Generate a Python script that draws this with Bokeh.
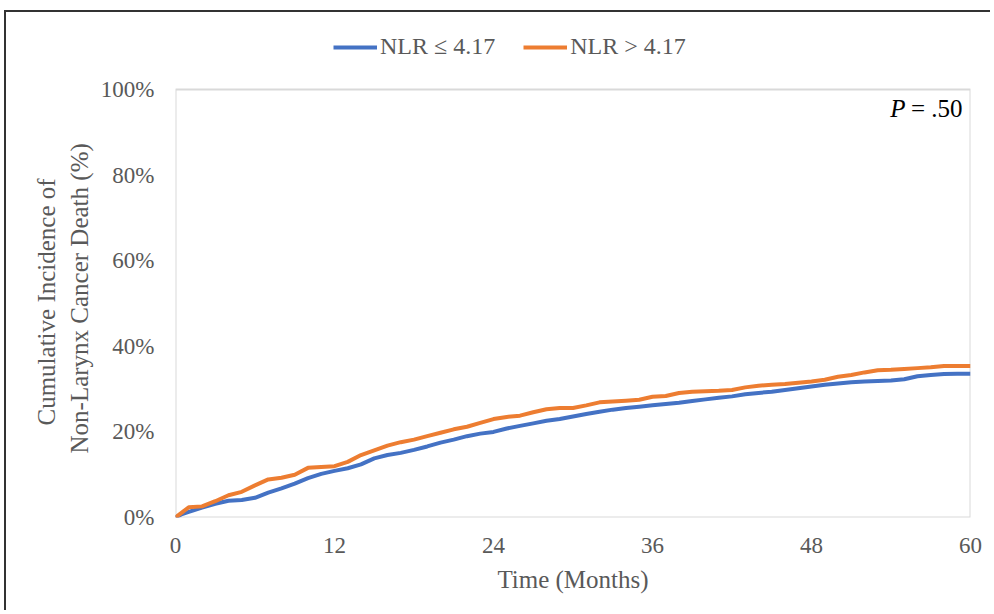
from bokeh.plotting import figure
from bokeh.models import Legend, LegendItem, Label, NumeralTickFormatter, FixedTicker, Range1d, Title
from bokeh.embed import file_html
from bokeh.resources import INLINE

months_low = [0, 0.5, 1, 2, 3, 4, 5, 6, 7, 8, 9, 10, 11, 12, 13, 14, 15, 16, 17, 18, 19, 20,
              21, 22, 23, 24, 25, 26, 27, 28, 29, 30, 31, 32, 33, 34, 35, 36, 37, 38, 39, 40,
              41, 42, 43, 44, 45, 46, 47, 48, 49, 50, 51, 52, 53, 54, 55, 56, 57, 58, 59, 60]
inc_low = [0, 0.8, 1.3, 2.3, 3.2, 3.9, 4.1, 4.6, 5.8, 6.8, 7.9, 9.2, 10.2, 10.9, 11.5, 12.4,
           13.8, 14.6, 15.1, 15.8, 16.6, 17.5, 18.2, 19.0, 19.6, 20.0, 20.8, 21.4, 22.0, 22.6,
           23.0, 23.6, 24.2, 24.7, 25.2, 25.6, 25.9, 26.2, 26.5, 26.8, 27.2, 27.6, 28.0, 28.3,
           28.8, 29.1, 29.4, 29.8, 30.2, 30.6, 31.0, 31.3, 31.6, 31.8, 31.9, 32.0, 32.3, 33.0,
           33.3, 33.5, 33.6, 33.6]

months_high = months_low
inc_high = [0, 1.2, 2.4, 2.6, 3.8, 5.2, 6.0, 7.5, 8.9, 9.3, 10.0, 11.6, 11.8, 12.0, 13.0, 14.6,
            15.7, 16.8, 17.6, 18.2, 19.0, 19.8, 20.6, 21.2, 22.1, 23.0, 23.5, 23.8, 24.6, 25.3,
            25.6, 25.6, 26.2, 26.9, 27.1, 27.3, 27.5, 28.2, 28.4, 29.1, 29.4, 29.5, 29.6, 29.8,
            30.4, 30.8, 31.0, 31.2, 31.5, 31.8, 32.2, 32.9, 33.3, 33.9, 34.4, 34.5, 34.7, 34.9,
            35.1, 35.4, 35.4, 35.4]

x_ticks = [0, 12, 24, 36, 48, 60]
y_ticks = [0, 0.2, 0.4, 0.6, 0.8, 1.0]
series_labels = ["NLR \u2264 4.17", "NLR > 4.17"]
colors = ["#4472C4", "#ED7D31"]
y_title_lines = ["Cumulative Incidence of", "Non-Larynx Cancer Death (%)"]
x_title = "Time (Months)"
p_value_text = "= .50"

FONT = "Liberation Serif"
GRAY = "#595959"

# layout geometry (pixels)
W, H = 986, 600
CANVAS_X, CANVAS_Y = 6, 12
FRAME_L, FRAME_R, FRAME_T100, FRAME_B = 175, 970, 89, 517
y_top = (FRAME_B - CANVAS_Y) / (FRAME_B - FRAME_T100)  # frame extends up to the canvas top

p = figure(width=W, height=H, output_backend="svg", toolbar_location=None,
           x_range=Range1d(0, 60), y_range=Range1d(0, y_top),
           min_border_left=FRAME_L - CANVAS_X, min_border_right=CANVAS_X + W - FRAME_R,
           min_border_top=0, min_border_bottom=CANVAS_Y + H - FRAME_B)
p.styles = {"margin-left": "4px", "margin-top": "10px",
            "border-left": "2px solid #333333", "border-top": "2px solid #333333"}

p.xgrid.visible = False
p.ygrid.visible = False
p.outline_line_color = None

# plot-area box
p.quad(left=[0], right=[60], bottom=[0], top=[1], fill_color=None,
       line_color="#d9d9d9", line_width=2)

r1 = p.line(months_low, [v / 100 for v in inc_low], line_color=colors[0], line_width=4)
r2 = p.line(months_high, [v / 100 for v in inc_high], line_color=colors[1], line_width=4)

for ax in (p.xaxis[0], p.yaxis[0]):
    ax.axis_line_color = None
    ax.major_tick_line_color = None
    ax.minor_tick_line_color = None
    ax.major_tick_out = 0
    ax.major_tick_in = 0
    ax.major_label_text_font = FONT
    ax.major_label_text_font_size = "23px"
    ax.major_label_text_color = GRAY
    ax.axis_label_text_font = FONT
    ax.axis_label_text_font_size = "25px"
    ax.axis_label_text_color = GRAY
    ax.axis_label_text_font_style = "normal"

p.xaxis.ticker = FixedTicker(ticks=x_ticks)
p.yaxis.ticker = FixedTicker(ticks=y_ticks)
p.yaxis.formatter = NumeralTickFormatter(format="0%")
p.xaxis.major_label_standoff = 20
p.yaxis.major_label_standoff = 21
p.xaxis.axis_label = x_title
p.xaxis.axis_label_standoff = 10

# two-line y title, inner line first (closest to the axis)
p.add_layout(Title(text=y_title_lines[1], align="left", offset=64, standoff=9,
                   text_font=FONT, text_font_size="25px", text_font_style="normal",
                   text_color=GRAY), "left")
p.add_layout(Title(text=y_title_lines[0], align="left", offset=92, standoff=0,
                   text_font=FONT, text_font_size="25px", text_font_style="normal",
                   text_color=GRAY), "left")

legend = Legend(items=[LegendItem(label=series_labels[0], renderers=[r1]),
                       LegendItem(label=series_labels[1], renderers=[r2])],
                orientation="horizontal", location=(158, 457),
                label_text_font=FONT, label_text_font_size="24px", label_text_color=GRAY,
                glyph_width=44, glyph_height=20, spacing=28, padding=0, margin=0,
                label_standoff=3, background_fill_alpha=0, border_line_color=None)
p.add_layout(legend, "center")

p.add_layout(Label(x=60, y=1, x_offset=-8, y_offset=-5, text=p_value_text, text_align="right",
                   text_baseline="top", text_font=FONT, text_font_size="25px", text_color="#000000"))
p.add_layout(Label(x=60, y=1, x_offset=-65, y_offset=-5, text="P", text_align="right",
                   text_baseline="top", text_font=FONT, text_font_size="25px",
                   text_font_style="italic", text_color="#000000"))

open("out.html", "w").write(file_html(p, INLINE))
